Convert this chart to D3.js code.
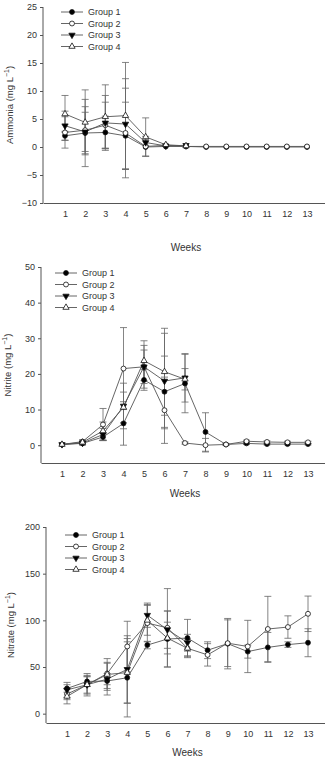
<!DOCTYPE html>
<html>
<head>
<meta charset="utf-8">
<script src="https://cdn.jsdelivr.net/npm/d3@7"></script>
<style>
  body { margin: 0; background: #fff; }
  svg { display: block; font-family: "Liberation Sans", Arial, sans-serif; }
  .axis text { fill: #333; font-size: 9px; }
  .axis path, .axis line { stroke: #555; }
</style>
</head>
<body>
<svg id="chart" width="325" height="759"></svg>
<script>
const weeks = [1, 2, 3, 4, 5, 6, 7, 8, 9, 10, 11, 12, 13];
const groups = ['Group 1', 'Group 2', 'Group 3', 'Group 4'];

// ammonia, mg/L (groups 3 and 4 stop after week 7)
const ammonia = [
  [2.0, 2.5, 2.6, 2.0, 0.0, 0.1, 0.1, 0.0, 0.0, 0.0, 0.0, 0.0, 0.0],
  [2.6, 3.0, 3.9, 2.5, 0.1, 0.3, 0.1, 0.1, 0.1, 0.1, 0.1, 0.1, 0.1],
  [3.8, 2.7, 4.3, 4.1, 0.8, 0.2, 0.3],
  [5.9, 4.4, 5.4, 5.6, 1.8, 0.4, 0.2]
];
const ammoniaErr = [
  [0.8, 6.0, 2.9, 6.0, 0.1, 0, 0, 0, 0, 0, 0, 0, 0],
  [2.8, 4.2, 4.1, 8.0, 1.8, 0, 0, 0, 0, 0, 0, 0, 0],
  [2.6, 3.5, 4.9, 8.1, 0.5, 0, 0],
  [3.3, 5.8, 5.7, 9.5, 3.4, 0, 0]
];

const nitrite = [
  [0.2, 0.5, 2.3, 6.1, 18.3, 15.0, 17.3, 3.7, 0.2, 0.5, 0.3, 0.3, 0.3],
  [0.2, 1.0, 5.8, 21.5, 22.0, 9.8, 0.6, 0.0, 0.2, 1.1, 0.9, 0.8, 0.8],
  [0.2, 0.6, 3.0, 11.0, 22.0, 18.0, 18.9],
  [0.2, 0.8, 4.0, 10.6, 23.7, 20.6, 18.5]
];
const nitriteErr = [
  [0.1, 0.5, 1.0, 6.1, 2.9, 10.0, 8.2, 5.4, 0.2, 0.3, 0.2, 0.2, 0.2],
  [0.1, 0.5, 4.5, 11.5, 4.7, 9.3, 0.3, 1.9, 0.2, 0.3, 0.3, 0.3, 0.3],
  [0.1, 0.4, 1.7, 6.4, 6.0, 13.4, 6.8],
  [0.1, 0.6, 2.5, 4.3, 5.6, 12.2, 3.0]
];

const nitrate = [
  [27, 34.5, 35, 38.5, 73.5, 80, 81, 68, 75, 66.5, 71, 74, 76],
  [21, 31, 43, 72, 97, 92, 70, 63, 75.5, 72, 90.7, 92.8, 107],
  [25.5, 31, 37, 47.5, 105.5, 90, 76],
  [18.5, 31, 42, 44, 100, 81, 70]
];
const nitrateErr = [
  [4, 5, 8, 42, 4, 30, 20, 9, 27, 7, 16, 3, 15],
  [6, 10, 12, 27, 20, 42, 10, 12, 25, 28, 35, 12, 19],
  [8, 9, 17, 36, 13, 20, 9],
  [8, 12, 17, 33, 16, 17, 8]
];

const ammoniaTicks = [-10, -5, 0, 5, 10, 15, 20, 25];
const nitriteTicks = [0, 10, 20, 30, 40, 50];
const nitrateTicks = [0, 50, 100, 150, 200];

const panels = [
  { label: 'Ammonia', vals: ammonia, errs: ammoniaErr, ticks: ammoniaTicks,
    yDomain: [-10, 25], yRange: [203, 7], left: 43, x1: 65, x13: 307,
    tickY: 211, weeksY: 251, labelX: 13, legX: 61, legY: 12 },
  { label: 'Nitrite', vals: nitrite, errs: nitriteErr, ticks: nitriteTicks,
    yDomain: [-5, 50], yRange: [463, 267], left: 41, x1: 62, x13: 308,
    tickY: 471, weeksY: 497, labelX: 11, legX: 55, legY: 273 },
  { label: 'Nitrate', vals: nitrate, errs: nitrateErr, ticks: nitrateTicks,
    yDomain: [-10, 200], yRange: [723, 527], left: 46, x1: 67, x13: 308,
    tickY: 731, weeksY: 756, labelX: 14, legX: 65, legY: 535 }
];

const svg = d3.select('#chart');

function marker(sel, g) {
  if (g === 0 || g === 1) {
    sel.attr('d', d3.symbol(d3.symbolCircle, 19)());
  } else {
    sel.attr('d', d3.symbol(d3.symbolTriangle, 17)());
    if (g === 2) sel.attr('transform', function() { return d3.select(this).attr('transform') + ' rotate(180)'; });
  }
  sel.attr('fill', (g === 0 || g === 2) ? '#000' : '#fff')
    .attr('stroke', '#111').attr('stroke-width', 0.8);
}

panels.forEach(p => {
  const step = (p.x13 - p.x1) / 12;
  const x = d3.scaleLinear()
    .domain([1 - (p.x1 - p.left) / step, 13 + (325 - p.x13) / step])
    .range([p.left, 325]);
  const y = d3.scaleLinear().domain(p.yDomain).range(p.yRange);
  const g = svg.append('g');

  // y axis
  const ya = g.append('g').attr('class', 'axis')
    .attr('transform', `translate(${p.left},0)`)
    .call(d3.axisLeft(y).tickValues(p.ticks).tickSize(3).tickPadding(3).tickSizeOuter(0));
  ya.select('.domain').attr('d', `M0,${p.yRange[1]}V${p.yRange[0]}`);

  // x axis, labels only
  g.append('g').attr('class', 'axis')
    .attr('transform', `translate(0,${p.yRange[0]})`)
    .call(d3.axisBottom(x).tickValues(weeks).tickSize(0).tickPadding(p.tickY - p.yRange[0]));

  g.append('text')
    .attr('x', (p.x1 + p.x13) / 2).attr('y', p.weeksY)
    .attr('text-anchor', 'middle').attr('font-size', 10).attr('fill', '#333')
    .text('Weeks');

  const yl = g.append('text')
    .attr('transform', `translate(${p.labelX},${(p.yRange[0] + p.yRange[1]) / 2}) rotate(-90)`)
    .attr('text-anchor', 'middle').attr('font-size', 9.5).attr('fill', '#333');
  yl.append('tspan').text(p.label + ' (mg L');
  yl.append('tspan').attr('dy', -4).attr('font-size', 7).text('\u22121');
  yl.append('tspan').attr('dy', 4).text(')');

  const line = d3.line().x((d, i) => x(weeks[i])).y(d => y(d));

  p.vals.forEach((vals, gi) => {
    const errs = p.errs[gi];
    g.append('path').attr('d', line(vals))
      .attr('fill', 'none').attr('stroke', '#555').attr('stroke-width', 0.9);

    const eb = g.append('g').attr('stroke', '#666').attr('stroke-width', 0.8);
    vals.forEach((v, i) => {
      const e = errs[i];
      if (!e || e < 0.3 * (p.yDomain[1] - p.yDomain[0]) / 100) return;
      const cx = x(weeks[i]);
      eb.append('line').attr('x1', cx).attr('x2', cx).attr('y1', y(v - e)).attr('y2', y(v + e));
      [v - e, v + e].forEach(t => {
        eb.append('line').attr('x1', cx - 3.5).attr('x2', cx + 3.5).attr('y1', y(t)).attr('y2', y(t));
      });
    });
  });

  p.vals.forEach((vals, gi) => {
    g.append('g').selectAll('path').data(vals).join('path')
      .attr('transform', (d, i) => `translate(${x(weeks[i])},${y(d)})`)
      .call(marker, gi);
  });

  // legend
  const leg = g.append('g');
  groups.forEach((name, gi) => {
    const ly = p.legY + gi * 11.5;
    leg.append('line').attr('x1', p.legX).attr('x2', p.legX + 22).attr('y1', ly).attr('y2', ly)
      .attr('stroke', '#555').attr('stroke-width', 0.9);
    leg.append('path').attr('transform', `translate(${p.legX + 11},${ly})`).call(marker, gi);
    leg.append('text').attr('x', p.legX + 27).attr('y', ly + 3.2)
      .attr('font-size', 9).attr('fill', '#333').text(name);
  });
});
</script>
</body>
</html>
